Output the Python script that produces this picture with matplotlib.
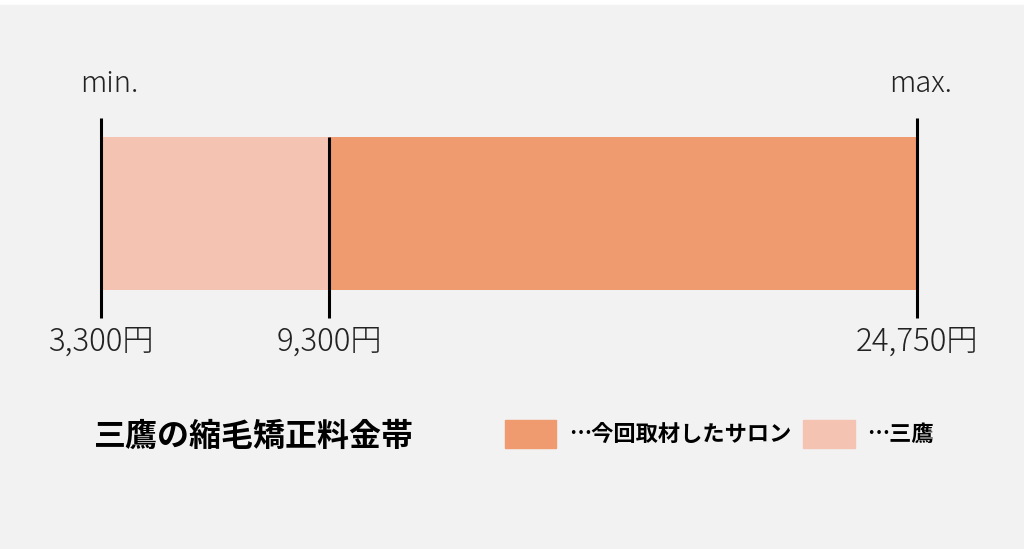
import matplotlib.pyplot as plt
from matplotlib.patches import Rectangle

plt.rcParams['font.family'] = ['Noto Sans CJK JP', 'DejaVu Sans']

# 料金データ
price_min = 3300
price_mitaka = 9300
price_max = 24750
tick_values = [price_min, price_mitaka, price_max]
tick_labels = ['3,300円', '9,300円', '24,750円']
title = '三鷹の縮毛矯正料金帯'
legend_labels = ['…今回取材したサロン', '…三鷹']

c_dark = '#f09a70'
c_light = '#f5c3b1'
bg = '#f2f2f2'

fig = plt.figure(figsize=(10.24, 5.49), dpi=100)
fig.patch.set_facecolor('white')

# 背景・テキスト用のレイヤー (ピクセル座標)
lay = fig.add_axes([0, 0, 1, 1])
lay.set_xlim(0, 1024)
lay.set_ylim(549, 0)
lay.axis('off')
lay.add_patch(Rectangle((0, 5), 1024, 544, color=bg, zorder=0))

# バー本体
ax = fig.add_axes([101 / 1024, 0, 816 / 1024, 1])
ax.set_xlim(price_min, price_max)
ax.set_ylim(549, 0)
ax.axis('off')

ax.barh(213.5, price_mitaka - price_min, left=price_min, height=153, color=c_light, zorder=2)
ax.barh(213.5, price_max - price_mitaka, left=price_mitaka, height=153, color=c_dark, zorder=2)

ax.vlines([price_min, price_max], 118, 318, color='black', lw=2.2, zorder=3, clip_on=False)
ax.vlines([price_mitaka], 137, 318, color='black', lw=2.2, zorder=3, clip_on=False)

for v, lab in zip(tick_values, tick_labels):
    ax.text(v, 342, lab, ha='center', va='center', fontsize=22.5, fontweight='light',
            color='#222222', clip_on=False)

ax.text(price_min + 230, 84, 'min.', ha='center', va='center', fontsize=21, fontweight='light',
        color='#222222', clip_on=False)
ax.text(price_max + 100, 84, 'max.', ha='center', va='center', fontsize=21, fontweight='light',
        color='#222222', clip_on=False)

# タイトルと凡例
lay.text(94, 437, title, ha='left', va='center', fontsize=23, fontweight='bold', color='black')
lay.add_patch(Rectangle((505, 420), 51, 28, color=c_dark, zorder=2))
lay.text(569, 434, legend_labels[0], ha='left', va='center', fontsize=16, fontweight='bold', color='black')
lay.add_patch(Rectangle((803, 420), 52, 28, color=c_light, zorder=2))
lay.text(867, 434, legend_labels[1], ha='left', va='center', fontsize=16, fontweight='bold', color='black')

fig.savefig('out.png', dpi=100, facecolor=fig.get_facecolor())
